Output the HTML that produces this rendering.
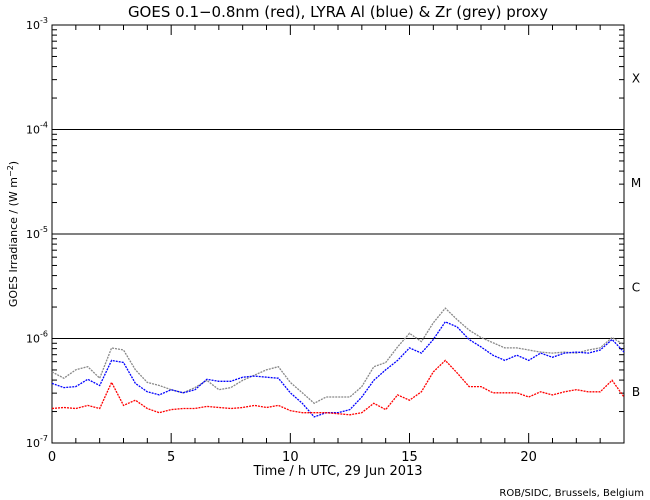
<!DOCTYPE html>
<html><head><meta charset="utf-8"><style>
body{margin:0;background:#fff;}
svg{display:block;font-family:"DejaVu Sans","Liberation Sans",sans-serif;}
</style></head><body>
<svg id="chart" width="650" height="500" viewBox="0 0 650 500" xmlns="http://www.w3.org/2000/svg">
<rect width="650" height="500" fill="#fff"/>
<text x="338" y="17" font-size="15" text-anchor="middle">GOES 0.1−0.8nm (red), LYRA Al (blue) &amp; Zr (grey) proxy</text>
<g id="axes"></g>
<g id="series"></g>
<text transform="translate(17,234) rotate(-90)" font-size="11" text-anchor="middle">GOES Irradiance / (W m<tspan dy="-4" font-size="8">−2</tspan><tspan dy="4">)</tspan></text>
<text x="338" y="475" font-size="13" text-anchor="middle">Time / h UTC, 29 Jun 2013</text>
<text x="644" y="496" font-size="10" text-anchor="end">ROB/SIDC, Brussels, Belgium</text>
</svg>
<script>
const hours = [];
const xTicks = [0,5,10,15,20];
const yExponents = [-7,-6,-5,-4,-3];
const flareClasses = ["B","C","M","X"];
const goesRed = [-6.67,-6.66,-6.67,-6.64,-6.67,-6.42,-6.64,-6.59,-6.67,-6.71,-6.68,-6.67,-6.67,-6.65,-6.66,-6.67,-6.66,-6.64,-6.66,-6.64,-6.69,-6.71,-6.71,-6.71,-6.72,-6.73,-6.71,-6.62,-6.68,-6.54,-6.59,-6.51,-6.32,-6.21,-6.33,-6.46,-6.46,-6.52,-6.52,-6.52,-6.56,-6.51,-6.54,-6.51,-6.49,-6.51,-6.51,-6.40,-6.56];
const lyraAl = [-6.43,-6.47,-6.46,-6.39,-6.45,-6.21,-6.23,-6.43,-6.51,-6.54,-6.49,-6.52,-6.49,-6.39,-6.41,-6.41,-6.37,-6.36,-6.37,-6.38,-6.52,-6.62,-6.75,-6.71,-6.71,-6.68,-6.56,-6.40,-6.30,-6.21,-6.09,-6.14,-6.01,-5.84,-5.89,-6.01,-6.08,-6.16,-6.21,-6.16,-6.21,-6.14,-6.18,-6.14,-6.13,-6.14,-6.11,-6.01,-6.13];
const lyraZr = [-6.32,-6.38,-6.30,-6.27,-6.38,-6.09,-6.11,-6.30,-6.42,-6.45,-6.49,-6.52,-6.47,-6.40,-6.49,-6.47,-6.40,-6.35,-6.30,-6.27,-6.42,-6.52,-6.62,-6.56,-6.56,-6.56,-6.46,-6.27,-6.23,-6.08,-5.95,-6.03,-5.85,-5.71,-5.82,-5.92,-5.99,-6.04,-6.09,-6.09,-6.11,-6.13,-6.14,-6.13,-6.14,-6.11,-6.09,-5.99,-6.06];
for (let i=0;i<goesRed.length;i++) hours.push(i*0.5);

const NS="http://www.w3.org/2000/svg";
const X0=52,X1=624,Y0=443,Y1=25;
const xs=h=>X0+(h/24)*(X1-X0);
const ys=l=>Y0-(l+7)/4*(Y0-Y1);
function mk(tag,attrs,parent){const e=document.createElementNS(NS,tag);for(const k in attrs)e.setAttribute(k,attrs[k]);parent.appendChild(e);return e;}
const ax=document.getElementById('axes');
let r=mk('rect',{x:X0,y:Y1,width:X1-X0,height:Y0-Y1,fill:'none',stroke:'#000','stroke-width':1},ax);


// horizontal class lines
[-6,-5,-4].forEach(e=>{const l=mk('line',{x1:X0,x2:X1,y1:ys(e),y2:ys(e),stroke:'#000'},ax);

});
// y ticks
yExponents.forEach(e=>{
  const y=ys(e);
  mk('line',{x1:X0,x2:X0+10,y1:y,y2:y,stroke:'#000'},ax);
  mk('line',{x1:X1-10,x2:X1,y1:y,y2:y,stroke:'#000'},ax);
  const t=mk('text',{x:X0-4,y:y+4,'font-size':11,'text-anchor':'end'},ax);
  
  
  t.innerHTML='10<tspan dy="-6" font-size="8">'+e+'</tspan>';
  if(e<-3){for(let m=2;m<10;m++){const ym=ys(e+Math.log10(m));
    mk('line',{x1:X0,x2:X0+5,y1:ym,y2:ym,stroke:'#000'},ax);
    mk('line',{x1:X1-5,x2:X1,y1:ym,y2:ym,stroke:'#000'},ax);}}
});
// class letters
flareClasses.forEach((c,i)=>{const t=mk('text',{x:636,y:ys(-6.5+i)+5,'font-size':12,'text-anchor':'middle'},ax);


t.textContent=c;});
// x ticks
for(let h=0;h<=24;h++){const x=xs(h);const len=(h%5===0)?10:5;
  mk('line',{x1:x,x2:x,y1:Y0,y2:Y0-len,stroke:'#000'},ax);
  mk('line',{x1:x,x2:x,y1:Y1,y2:Y1+len,stroke:'#000'},ax);}
xTicks.forEach(h=>{const t=mk('text',{x:xs(h),y:461,'font-size':13,'text-anchor':'middle'},ax);


t.textContent=h;});
// series
const sg=document.getElementById('series');
[[lyraZr,'#888','lyra-zr-series'],[lyraAl,'#0000ff','lyra-al-series'],[goesRed,'#ff0000','goes-xray-series']].forEach(([d,c,n])=>{
  const pts=d.map((v,i)=>xs(hours[i]).toFixed(1)+','+ys(v).toFixed(1)).join(' ');
  const p=mk('polyline',{points:pts,fill:'none',stroke:c,'stroke-width':1.3,'stroke-dasharray':'2 1'},sg);
  
  
});
</script>
</body></html>
